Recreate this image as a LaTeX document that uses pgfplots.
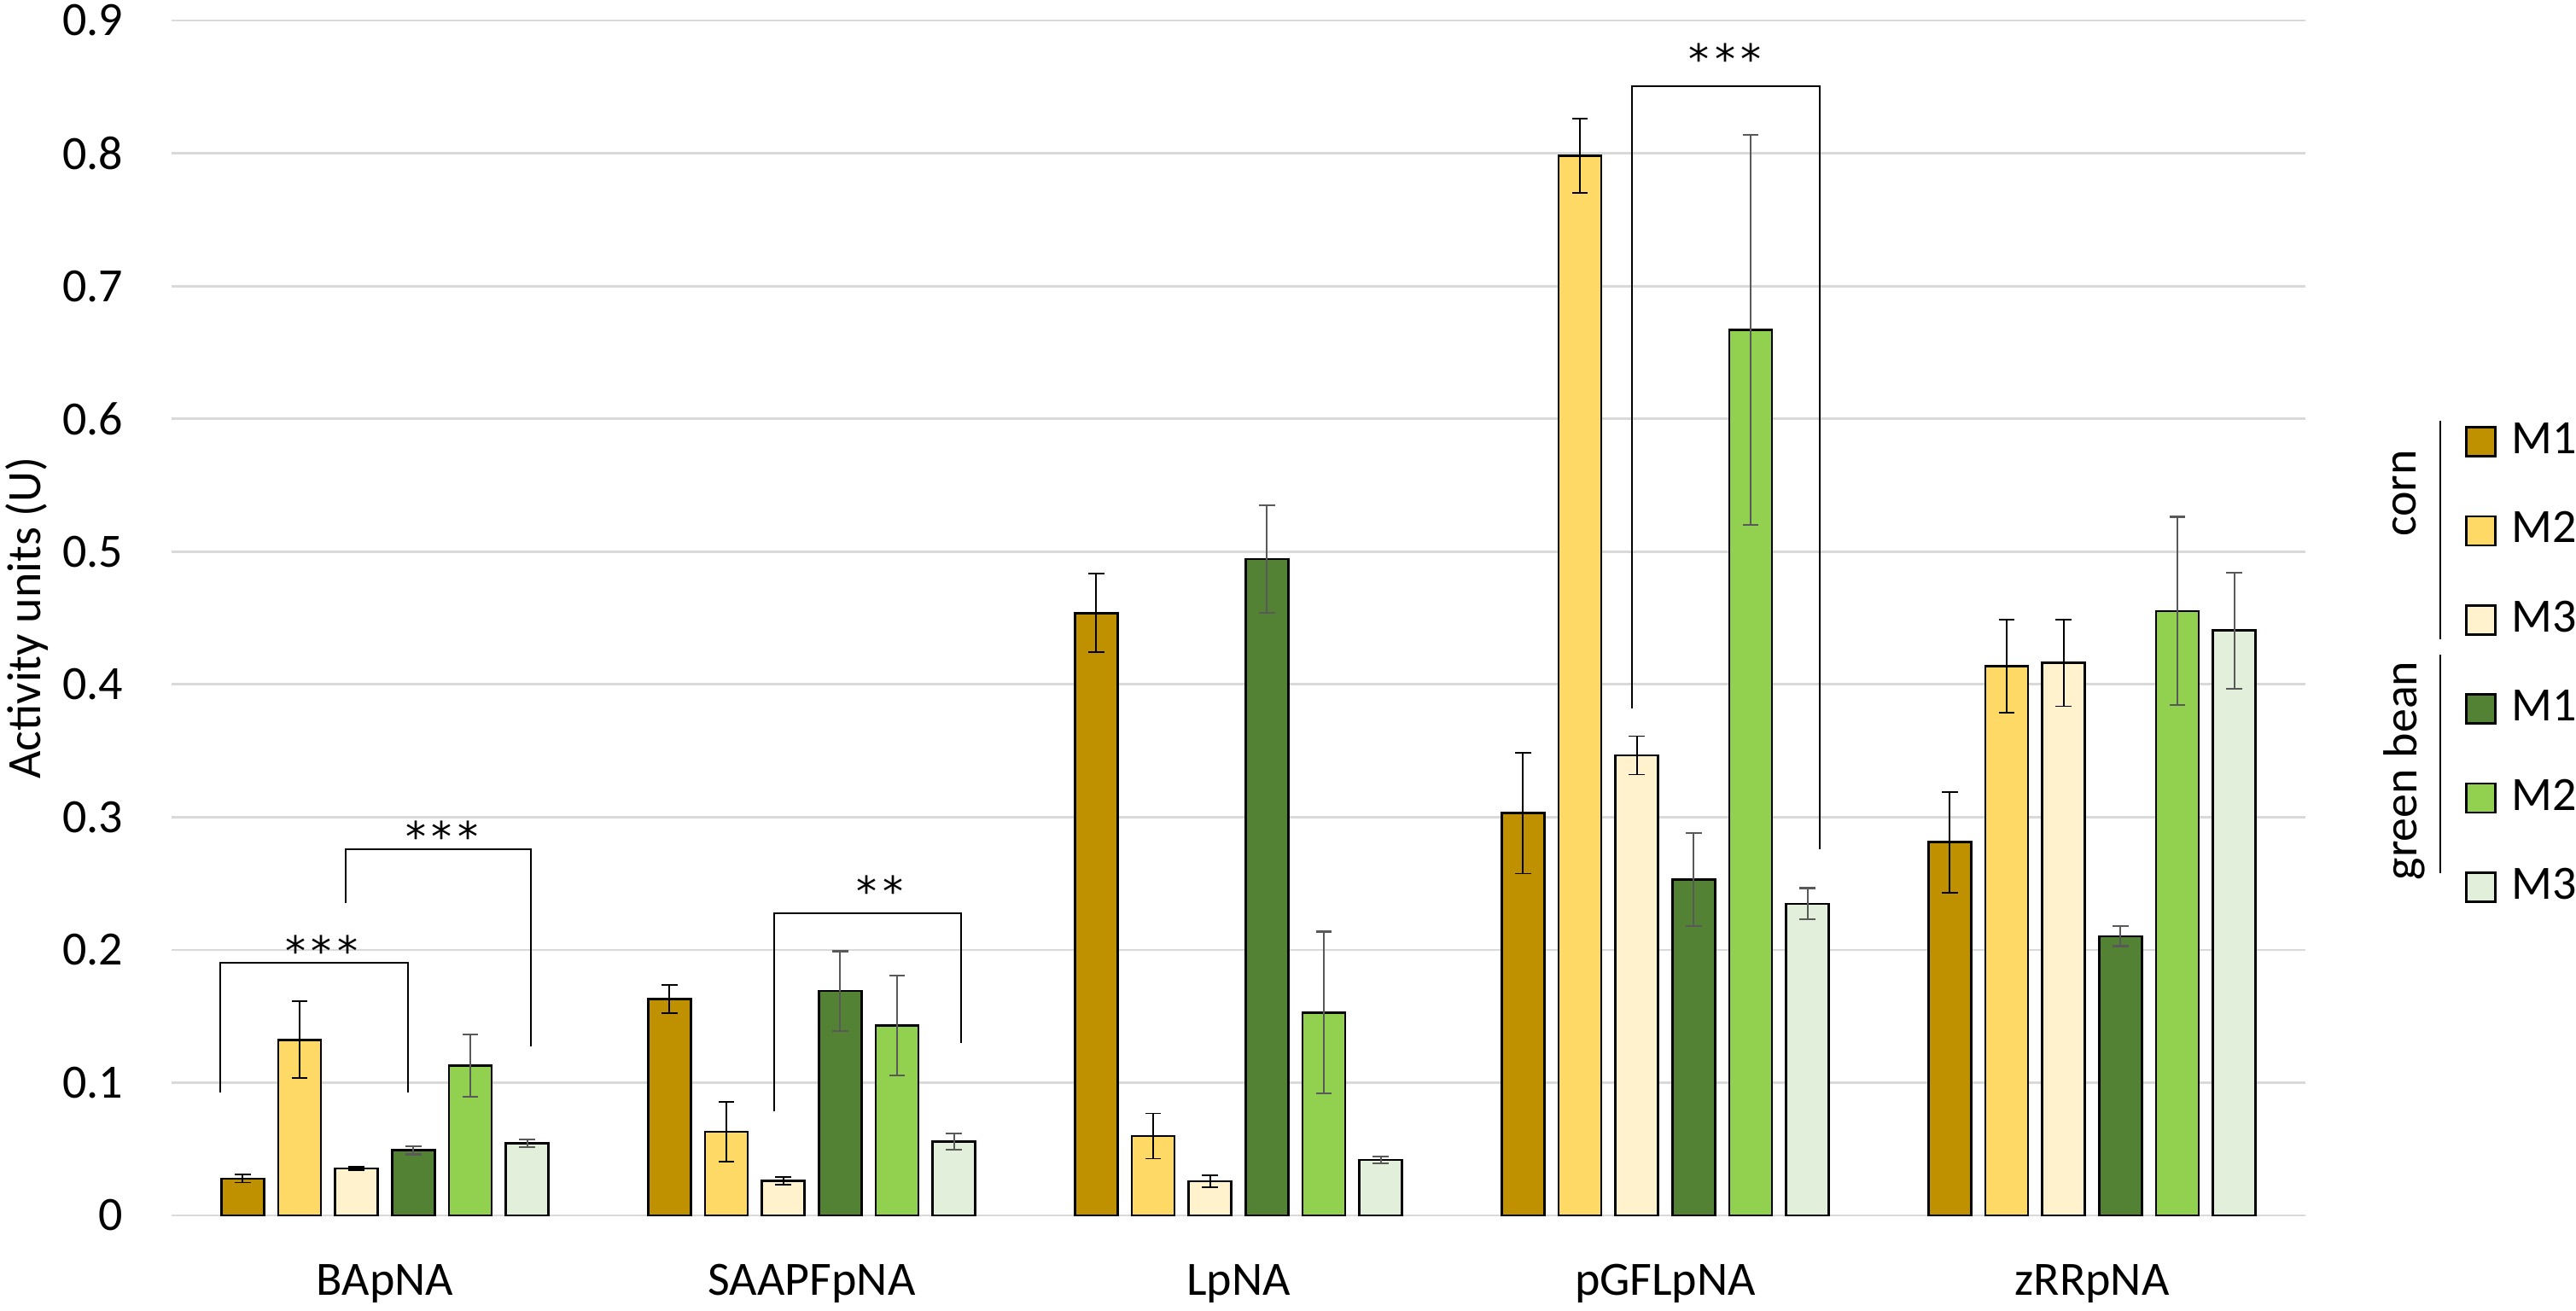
\documentclass[border=0pt]{standalone}
\usepackage{fontspec}
\setmainfont{Carlito}
\newfontfamily\starfont{DejaVu Sans}
\usepackage{pgfplots}
\usepackage{pgfplotstable}
\pgfplotsset{compat=1.18}
\definecolor{cA}{HTML}{BF9000}
\definecolor{cB}{HTML}{FFD966}
\definecolor{cC}{HTML}{FFF2CC}
\definecolor{gA}{HTML}{548235}
\definecolor{gB}{HTML}{92D050}
\definecolor{gC}{HTML}{E2EFDA}
\definecolor{gridc}{HTML}{D9D9D9}
\definecolor{errg}{HTML}{595959}
\newcommand\fs{\fontsize{14}{16.8}\selectfont}
\newcommand\fst{\starfont\fontsize{12}{14}\selectfont}
\newcommand\sthree{*\kern1.6pt*\kern1.6pt*}
\newcommand\stwo{*\kern1.6pt*}

\pgfplotstableread{
x y e
0 0.0277 0.003
1 0.163 0.0105
2 0.4537 0.0295
3 0.303 0.0455
4 0.2811 0.038
}\cornMone
\pgfplotstableread{
x y e
0 0.1323 0.029
1 0.0629 0.0225
2 0.0598 0.017
3 0.798 0.028
4 0.4138 0.035
}\cornMtwo
\pgfplotstableread{
x y e
0 0.0353 0.0012
1 0.026 0.003
2 0.0256 0.0045
3 0.3465 0.0145
4 0.4162 0.0327
}\cornMthree
\pgfplotstableread{
x y e
0 0.049 0.003
1 0.169 0.030
2 0.4944 0.0405
3 0.253 0.035
4 0.2103 0.0075
}\beanMone
\pgfplotstableread{
x y e
0 0.1128 0.0236
1 0.143 0.0375
2 0.1528 0.061
3 0.667 0.147
4 0.4552 0.071
}\beanMtwo
\pgfplotstableread{
x y e
0 0.0542 0.003
1 0.0557 0.006
2 0.0417 0.0026
3 0.2347 0.0118
4 0.4405 0.0438
}\beanMthree

\pgfplotsset{
  cornerr/.style={error bars/.cd, y dir=both, y explicit,
    error bar style={black, line width=0.45pt},
    error mark options={black, rotate=90, mark size=2.3pt, line width=0.45pt}},
  beanerr/.style={error bars/.cd, y dir=both, y explicit,
    error bar style={errg, line width=0.55pt},
    error mark options={errg, rotate=90, mark size=2.3pt, line width=0.55pt}},
}

\begin{document}
\fs
\begin{tikzpicture}
\useasboundingbox (0,0) rectangle (754.5pt,383.75pt);
\begin{axis}[
  at={(50.25pt,27.75pt)}, anchor=south west,
  width=625pt, height=350pt, scale only axis,
  xmin=-0.5, xmax=4.5, ymin=0, ymax=0.9,
  ybar, bar width=0.1,
  axis line style={draw=none},
  major tick length=0pt,
  ytick={0,0.1,0.2,0.3,0.4,0.5,0.6,0.7,0.8,0.9},
  xtick={0,1,2,3,4},
  xticklabels={BApNA,SAAPFpNA,LpNA,pGFLpNA,zRRpNA},
  ymajorgrids, xmajorgrids=false,
  grid style={color=gridc, line width=0.7pt},
  /pgf/number format/assume math mode=true,
  tick label style={font=\fs},
  yticklabel style={anchor=east, inner sep=0pt, xshift=-14pt},
  xticklabel style={anchor=base, inner sep=0pt, yshift=-23.25pt},
  ylabel={Activity units (U)},
  ylabel style={font=\fs, at={(axis description cs:-0.0679,0.5)}, anchor=center},
  clip=false,
  legend image code/.code={\draw[#1] (0pt,-4.25pt) rectangle (8.5pt,4.25pt);},
  legend cell align=left,
  legend style={draw=none, fill=none, inner sep=0pt, outer sep=0pt,
    at={(axis description cs:1.0748,0.66343)}, anchor=north west,
    row sep=14.95pt, column sep=4.5pt,
    nodes={inner sep=0pt, outer sep=0pt}, font=\fs},
]
\addplot[fill=cA, draw=black, line width=0.65pt, bar shift=-0.3333, cornerr]
  table[x=x, y=y, y error=e] {\cornMone};
\addplot[fill=cB, draw=black, line width=0.65pt, bar shift=-0.2, cornerr]
  table[x=x, y=y, y error=e] {\cornMtwo};
\addplot[fill=cC, draw=black, line width=0.65pt, bar shift=-0.0667, cornerr]
  table[x=x, y=y, y error=e] {\cornMthree};
\addplot[fill=gA, draw=black, line width=0.65pt, bar shift=0.0667, beanerr]
  table[x=x, y=y, y error=e] {\beanMone};
\addplot[fill=gB, draw=black, line width=0.65pt, bar shift=0.2, beanerr]
  table[x=x, y=y, y error=e] {\beanMtwo};
\addplot[fill=gC, draw=black, line width=0.65pt, bar shift=0.3333, beanerr]
  table[x=x, y=y, y error=e] {\beanMthree};
\legend{M1,M2,M3,M1,M2,M3}

% significance brackets
\draw[black, line width=0.4pt] (axis cs:-0.386,0.0926) |- (axis cs:0.054,0.1903) -- (axis cs:0.054,0.0926);
\draw[black, line width=0.4pt] (axis cs:-0.092,0.235) |- (axis cs:0.342,0.2757) -- (axis cs:0.342,0.1276);
\draw[black, line width=0.4pt] (axis cs:0.912,0.0783) |- (axis cs:1.350,0.2274) -- (axis cs:1.350,0.1296);
\draw[black, line width=0.4pt] (axis cs:2.922,0.382) |- (axis cs:3.362,0.8506) -- (axis cs:3.362,0.276);
\node[anchor=base, font=\fst, inner sep=0pt] at (axis cs:-0.148,0.1879) {\sthree};
\node[anchor=base, font=\fst, inner sep=0pt] at (axis cs:0.134,0.2743) {\sthree};
\node[anchor=base, font=\fst, inner sep=0pt] at (axis cs:1.16,0.2332) {\stwo};
\node[anchor=base, font=\fst, inner sep=0pt] at (axis cs:3.14,0.8599) {\sthree};

% legend group labels
\draw[black, line width=0.5pt] (axis description cs:1.0632,0.665) -- (axis description cs:1.0632,0.48214);
\draw[black, line width=0.5pt] (axis description cs:1.0632,0.46929) -- (axis description cs:1.0632,0.28643);
\node[rotate=90, font=\fs] at (axis description cs:1.0464,0.60429) {corn};
\node[rotate=90, font=\fs] at (axis description cs:1.0464,0.37214) {green bean};
\end{axis}
\end{tikzpicture}
\end{document}
